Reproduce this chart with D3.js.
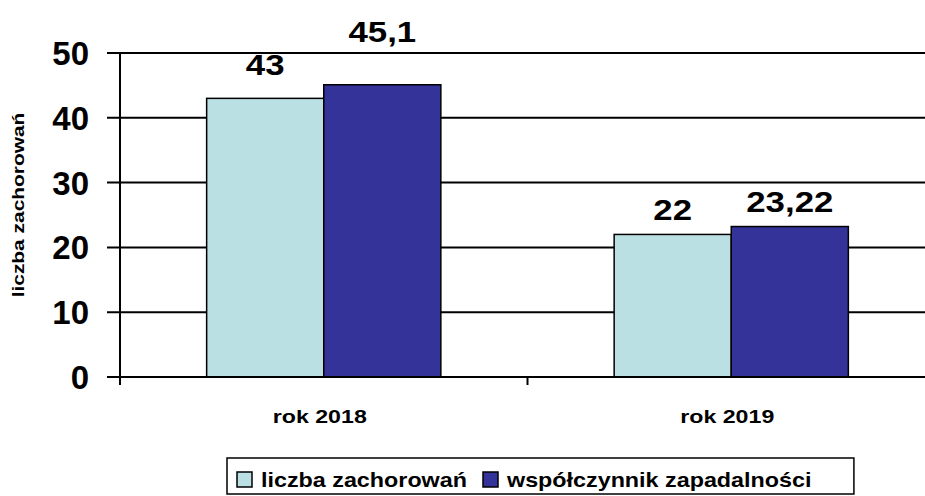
<!DOCTYPE html>
<html>
<head>
<meta charset="utf-8">
<script src="https://cdn.jsdelivr.net/npm/d3@7"></script>
<style>
    body { margin: 0; background: #fff; }
    text { font-family: Arial, "Liberation Sans", sans-serif; font-weight: bold; fill: #000; }
</style>
</head>
<body>
<svg id="chart" width="925" height="496"></svg>
<script>
// Data
var categories = ["rok 2018", "rok 2019"];
var seriesNames = ["liczba zachorowań", "współczynnik zapadalności"];
var casesValues = [43, 22];
var rateValues = [45.1, 23.22];
var labelTexts = [["43", "45,1"], ["22", "23,22"]];
var yTicks = [0, 10, 20, 30, 40, 50];
var colors = ["#bbe0e3", "#333399"];

var svg = d3.select("#chart");

var plotLeft = 120, plotRight = 935, plotTop = 53, plotBottom = 377;

var y = d3.scaleLinear().domain([0, 50]).range([plotBottom, plotTop]);
var x0 = d3.scaleBand().domain(categories).range([plotLeft, plotRight]).paddingInner(0).paddingOuter(0);
var x1 = d3.scaleBand().domain([0, 1]).range([0, x0.bandwidth()]).paddingInner(0).paddingOuter(0.74);

// Widen text horizontally (the original font renders wider than tall)
function Stretch(sel, k) {
    sel.each(function () {
        var w = this.getComputedTextLength();
        d3.select(this)
            .attr("textLength", w * k)
            .attr("lengthAdjust", "spacingAndGlyphs");
    });
}

// Gridlines
svg.append("g")
    .selectAll("line")
    .data(yTicks.filter(function (d) { return d > 0; }))
    .enter()
    .append("line")
    .attr("x1", plotLeft - 13)
    .attr("x2", 925)
    .attr("y1", function (d) { return y(d); })
    .attr("y2", function (d) { return y(d); })
    .attr("stroke", "#000")
    .attr("stroke-width", 2);

// Bars
var groups = svg.append("g")
    .selectAll("g")
    .data(categories)
    .enter()
    .append("g")
    .attr("transform", function (d) { return "translate(" + x0(d) + ",0)"; });

groups.selectAll("rect")
    .data(function (d, i) { return [casesValues[i], rateValues[i]]; })
    .enter()
    .append("rect")
    .attr("x", function (d, j) { return x1(j); })
    .attr("y", function (d) { return y(d); })
    .attr("width", x1.bandwidth())
    .attr("height", function (d) { return plotBottom - y(d); })
    .attr("fill", function (d, j) { return colors[j]; })
    .attr("stroke", "#000")
    .attr("stroke-width", 1.5);

// Value labels (lift above bar, as placed in the original)
var lift = [[23, 43], [14, 14.5]];
var valueLabels = groups.selectAll("text.value")
    .data(function (d, i) {
        return [casesValues[i], rateValues[i]].map(function (v, j) {
            return { v: v, t: labelTexts[i][j], lift: lift[i][j] };
        });
    })
    .enter()
    .append("text")
    .attr("class", "value")
    .attr("x", function (d, j) { return x1(j) + x1.bandwidth() / 2; })
    .attr("y", function (d) { return y(d.v) - d.lift; })
    .attr("text-anchor", "middle")
    .style("font-size", "30px")
    .text(function (d) { return d.t; });
Stretch(valueLabels, 1.16);

// Y axis
svg.append("line")
    .attr("x1", plotLeft).attr("x2", plotLeft)
    .attr("y1", plotTop).attr("y2", plotBottom + 8)
    .attr("stroke", "#000").attr("stroke-width", 2);

svg.append("g")
    .selectAll("text")
    .data(yTicks)
    .enter()
    .append("text")
    .attr("x", 89)
    .attr("y", function (d) { return y(d) + 12; })
    .attr("text-anchor", "end")
    .style("font-size", "33px")
    .text(function (d) { return d; });

// X axis
svg.append("line")
    .attr("x1", plotLeft - 13).attr("x2", 925)
    .attr("y1", plotBottom).attr("y2", plotBottom)
    .attr("stroke", "#000").attr("stroke-width", 2);

svg.append("line")
    .attr("x1", x0(categories[1])).attr("x2", x0(categories[1]))
    .attr("y1", plotBottom).attr("y2", plotBottom + 8)
    .attr("stroke", "#000").attr("stroke-width", 2);

var catLabels = svg.append("g")
    .selectAll("text")
    .data(categories)
    .enter()
    .append("text")
    .attr("x", function (d) { return x0(d) + x0.bandwidth() / 2 - 4; })
    .attr("y", 423)
    .attr("text-anchor", "middle")
    .style("font-size", "19px")
    .text(function (d) { return d; });
Stretch(catLabels, 1.22);

// Y title
var yTitle = svg.append("text")
    .attr("transform", "translate(24,205) rotate(-90)")
    .attr("text-anchor", "middle")
    .style("font-size", "17px")
    .text("liczba zachorowań");
Stretch(yTitle, 1.23);

// Legend
var legend = svg.append("g");
var legendBox = legend.append("rect")
    .attr("x", 227).attr("y", 458)
    .attr("height", 36)
    .attr("fill", "#fff")
    .attr("stroke", "#000")
    .attr("stroke-width", 1.5);

var legendX = [237, 483];
var items = legend.selectAll("g")
    .data(seriesNames)
    .enter()
    .append("g")
    .attr("transform", function (d, i) { return "translate(" + legendX[i] + ",472)"; });

items.append("rect")
    .attr("width", 15).attr("height", 15)
    .attr("fill", function (d, i) { return colors[i]; })
    .attr("stroke", "#000")
    .attr("stroke-width", 1.5);

var legendTexts = items.append("text")
    .attr("x", 24)
    .attr("y", 15)
    .style("font-size", "21px")
    .text(function (d) { return d; });
Stretch(legendTexts, 1.11);

var lastEnd = legendX[1] + 24 + legendTexts.nodes()[1].getComputedTextLength() * 1.11;
legendBox.attr("width", lastEnd + 9 - 227);
</script>
</body>
</html>
